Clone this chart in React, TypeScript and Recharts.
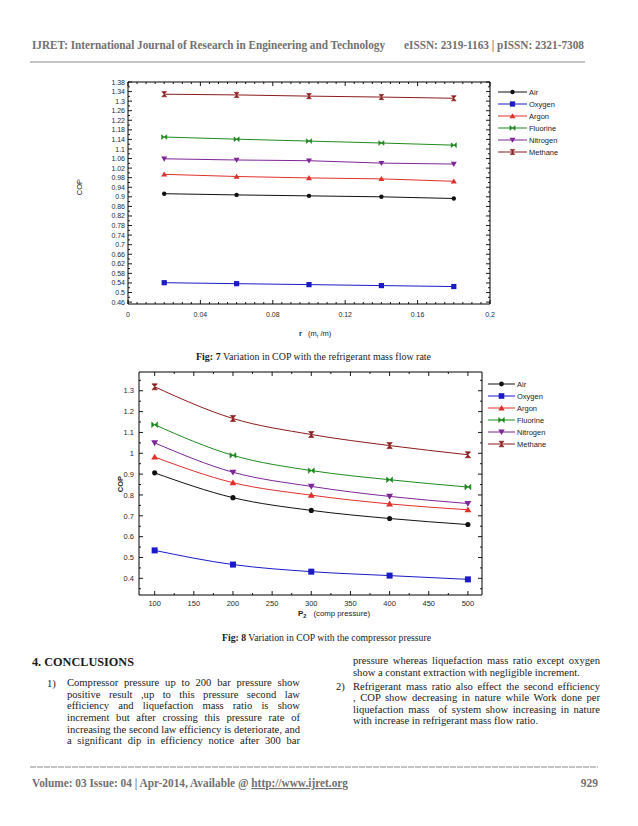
import React from 'react';
import { LineChart, Line, XAxis, YAxis } from 'recharts';

const seriesNames = ['Air', 'Oxygen', 'Argon', 'Fluorine', 'Nitrogen', 'Methane'];
const seriesColors = ['#111111', '#1a1ac8', '#e0302c', '#1e8a1e', '#7e2598', '#8c1b1b'];
const seriesMarkers = ['circle', 'square', 'triangle', 'bowtie', 'triangleDown', 'hourglass'];

// Fig 7: COP vs refrigerant mass flow ratio r
const massRatio = [0.02, 0.06, 0.1, 0.14, 0.18];
const copAirR = [0.913, 0.908, 0.904, 0.9, 0.893];
const copOxygenR = [0.541, 0.537, 0.533, 0.529, 0.525];
const copArgonR = [0.994, 0.985, 0.979, 0.975, 0.965];
const copFluorineR = [1.15, 1.141, 1.133, 1.125, 1.116];
const copNitrogenR = [1.059, 1.054, 1.051, 1.041, 1.037];
const copMethaneR = [1.329, 1.326, 1.321, 1.317, 1.312];

// Fig 8: COP vs compressor pressure P2
const pressure = [100, 200, 300, 400, 500];
const copAirP = [0.906, 0.787, 0.726, 0.687, 0.658];
const copOxygenP = [0.534, 0.466, 0.432, 0.413, 0.395];
const copArgonP = [0.982, 0.859, 0.799, 0.757, 0.729];
const copFluorineP = [1.137, 0.99, 0.917, 0.873, 0.838];
const copNitrogenP = [1.05, 0.909, 0.841, 0.793, 0.759];
const copMethaneP = [1.319, 1.167, 1.09, 1.037, 0.993];

const fig7XTicks = [0, 0.04, 0.08, 0.12, 0.16, 0.2];
const fig7XLabels = ['0', '0.04', '0.08', '0.12', '0.16', '0.2'];
const fig7YTicks = [0.46, 0.5, 0.54, 0.58, 0.62, 0.66, 0.7, 0.74, 0.78, 0.82, 0.86, 0.9, 0.94, 0.98, 1.02, 1.06, 1.1, 1.14, 1.18, 1.22, 1.26, 1.3, 1.34, 1.38];
const fig7YLabels = ['0.46', '0.5', '0.54', '0.58', '0.62', '0.66', '0.7', '0.74', '0.78', '0.82', '0.86', '0.9', '0.94', '0.98', '1.02', '1.06', '1.1', '1.14', '1.18', '1.22', '1.26', '1.3', '1.34', '1.38'];
const fig8XTicks = [100, 150, 200, 250, 300, 350, 400, 450, 500];
const fig8XLabels = ['100', '150', '200', '250', '300', '350', '400', '450', '500'];
const fig8YTicks = [0.4, 0.5, 0.6, 0.7, 0.8, 0.9, 1, 1.1, 1.2, 1.3];
const fig8YLabels = ['0.4', '0.5', '0.6', '0.7', '0.8', '0.9', '1', '1.1', '1.2', '1.3'];

const steps = (a: number, n: number, s: number) => {
  const out: number[] = [];
  for (let i = 0; i <= n; i++) out.push(Math.round((a + i * s) * 100000) / 100000);
  return out;
};
const fig7XAll = steps(0, 40, 0.005);
const fig7YAll = steps(0.46, 46, 0.02);
const fig8XAll = steps(100, 16, 25);
const fig8YAll = steps(0.35, 20, 0.05);

const fig7Series = [copAirR, copOxygenR, copArgonR, copFluorineR, copNitrogenR, copMethaneR];
const fig8Series = [copAirP, copOxygenP, copArgonP, copFluorineP, copNitrogenP, copMethaneP];

const fig7Data = massRatio.map((r, i) => {
  const row: any = { r };
  seriesNames.forEach((n, k) => (row[n] = fig7Series[k][i]));
  return row;
});
const fig8Data = pressure.map((p, i) => {
  const row: any = { p };
  seriesNames.forEach((n, k) => (row[n] = fig8Series[k][i]));
  return row;
});

const SANS = "'Liberation Sans', Arial, sans-serif";
const SERIF = "'Liberation Serif', 'Times New Roman', serif";

function Marker({ kind, cx, cy, color, s }: { kind: string; cx: number; cy: number; color: string; s: number }) {
  switch (kind) {
    case 'circle':
      return <circle cx={cx} cy={cy} r={s * 0.85} fill={color} />;
    case 'square':
      return <rect x={cx - s} y={cy - s} width={2 * s} height={2 * s} fill={color} />;
    case 'triangle':
      return <polygon points={`${cx},${cy - s * 1.1} ${cx - s * 1.15},${cy + s * 0.85} ${cx + s * 1.15},${cy + s * 0.85}`} fill={color} />;
    case 'triangleDown':
      return <polygon points={`${cx},${cy + s * 1.1} ${cx - s * 1.15},${cy - s * 0.85} ${cx + s * 1.15},${cy - s * 0.85}`} fill={color} />;
    case 'bowtie':
      return (
        <g fill={color} stroke={color} strokeWidth={0.6}>
          <polygon points={`${cx - s},${cy - s * 0.9} ${cx},${cy} ${cx - s},${cy + s * 0.9}`} />
          <polygon points={`${cx + s},${cy - s * 0.9} ${cx},${cy} ${cx + s},${cy + s * 0.9}`} />
        </g>
      );
    case 'hourglass':
    default:
      return (
        <g fill={color} stroke={color} strokeWidth={0.6}>
          <polygon points={`${cx - s * 0.9},${cy - s} ${cx + s * 0.9},${cy - s} ${cx},${cy}`} />
          <polygon points={`${cx - s * 0.9},${cy + s} ${cx + s * 0.9},${cy + s} ${cx},${cy}`} />
        </g>
      );
  }
}

type Side = 'left' | 'right' | 'top' | 'bottom';
function makeTick(side: Side, majors: number[], labels: string[], fontSize: number, labelGap: number, majorLen = 4, minorLen = 2) {
  return (props: any) => {
    const { x, y, payload } = props;
    const v = Number(payload?.value);
    const idx = majors.findIndex((m) => Math.abs(m - v) < 1e-6);
    const len = idx >= 0 ? majorLen : minorLen;
    let x2 = x;
    let y2 = y;
    if (side === 'left') x2 = x + len;
    if (side === 'right') x2 = x - len;
    if (side === 'bottom') y2 = y - len;
    if (side === 'top') y2 = y + len;
    let label = null;
    if (idx >= 0 && labels.length) {
      if (side === 'left')
        label = (
          <text x={x - labelGap} y={y + fontSize * 0.36} textAnchor="end" fontSize={fontSize} fontFamily={SANS} fill="#2a2a2a">
            {labels[idx]}
          </text>
        );
      if (side === 'bottom')
        label = (
          <text x={x} y={y + labelGap} textAnchor="middle" fontSize={fontSize} fontFamily={SANS} fill="#2a2a2a">
            {labels[idx]}
          </text>
        );
    }
    return (
      <g>
        <line x1={x} y1={y} x2={x2} y2={y2} stroke="#000" strokeWidth={0.9} />
        {label}
      </g>
    );
  };
}

const t7Left = makeTick('left', fig7YTicks, fig7YLabels, 7, 3);
const t7Right = makeTick('right', fig7YTicks, [], 7, 0);
const t7Bottom = makeTick('bottom', fig7XTicks, fig7XLabels, 7, 12.5);
const t7Top = makeTick('top', fig7XTicks, [], 7, 0);
const t8Left = makeTick('left', fig8YTicks, fig8YLabels, 7.5, 5);
const t8Right = makeTick('right', fig8YTicks, [], 7.5, 0);
const t8Bottom = makeTick('bottom', fig8XTicks, fig8XLabels, 7.5, 11);
const t8Top = makeTick('top', fig8XTicks, [], 7.5, 0);

const axisCommon = {
  tickLine: false,
  tickSize: 0,
  tickMargin: 0,
  interval: 0 as const,
  allowDataOverflow: true,
  axisLine: { stroke: '#000', strokeWidth: 1 },
  type: 'number' as const,
};

function renderLines(s: number, curve: 'linear' | 'monotone') {
  return seriesNames.map((name, k) => (
    <Line
      key={name}
      dataKey={name}
      type={curve}
      stroke={seriesColors[k]}
      strokeWidth={1}
      isAnimationActive={false}
      activeDot={false}
      dot={(p: any) => (
        <Marker key={`${name}-${p.index}`} kind={seriesMarkers[k]} cx={p.cx} cy={p.cy} color={seriesColors[k]} s={s} />
      )}
    />
  ));
}

function Legend({ x0, y0, dy, len, s }: { x0: number; y0: number; dy: number; len: number; s: number }) {
  return (
    <g>
      {seriesNames.map((name, k) => {
        const y = y0 + k * dy;
        return (
          <g key={name}>
            <line x1={x0} y1={y} x2={x0 + len} y2={y} stroke={seriesColors[k]} strokeWidth={1} />
            <Marker kind={seriesMarkers[k]} cx={x0 + len / 2} cy={y} color={seriesColors[k]} s={s} />
            <text x={x0 + len + 2} y={y + 2.6} fontSize={7.5} fontFamily={SANS} fill="#222">
              {name}
            </text>
          </g>
        );
      })}
    </g>
  );
}

const leftLines = [
  'Compressor pressure up to 200 bar pressure show',
  'positive result ,up to this pressure second law',
  'efficiency and liquefaction mass ratio is show',
  'increment but after crossing this pressure rate of',
  'increasing the second law efficiency is deteriorate, and',
  'a significant dip in efficiency notice after 300 bar',
];
const rightLines = [
  'pressure whereas liquefaction mass ratio except oxygen',
  'show a constant extraction with negligible increment.',
  'Refrigerant mass ratio also effect the second efficiency',
  ', COP show decreasing in nature while Work done per',
  'liquefaction mass  of system show increasing in nature',
  'with increase in refrigerant mass flow ratio.',
];
const leftCenters = [683, 694.7, 706.3, 718, 729.7, 741.3];
const rightCenters = [661, 672.6, 686.5, 698.1, 709.7, 721.3];
const rightJustify = [true, false, true, true, true, false];

function BodyLine({ text, x, cy, w, justify }: { text: string; x: number; cy: number; w: number; justify: boolean }) {
  return (
    <div
      style={{
        position: 'absolute',
        left: x,
        top: cy - 7,
        width: w,
        height: 13,
        lineHeight: '13px',
        fontSize: 10.6,
        fontFamily: SERIF,
        color: '#1a1a1a',
        whiteSpace: 'pre',
        textAlign: justify ? 'justify' : 'left',
        textAlignLast: justify ? 'justify' : 'left',
      } as any}
    >
      {text}
    </div>
  );
}

export default function App() {
  return (
    <div style={{ position: 'absolute', left: 0, top: 0, width: 638, height: 826, background: '#fff', overflow: 'hidden' }}>
      <svg width={638} height={826} style={{ position: 'absolute', left: 0, top: 0 }}>
        {/* header */}
        <text x={32} y={49} fontSize={11.5} fontWeight="bold" fontFamily={SERIF} fill="#707070" textLength={353} lengthAdjust="spacingAndGlyphs">
          IJRET: International Journal of Research in Engineering and Technology
        </text>
        <text x={404} y={49} fontSize={11.5} fontWeight="bold" fontFamily={SERIF} fill="#707070" textLength={180} lengthAdjust="spacingAndGlyphs">
          eISSN: 2319-1163 | pISSN: 2321-7308
        </text>
        <line x1={30} y1={62} x2={585} y2={62} stroke="#8a8a8a" strokeWidth={1} />

        {/* fig 7 labels */}
        <text x={82} y={187} transform="rotate(-90 82 187)" textAnchor="middle" fontSize={7.5} fontFamily={SANS} fill="#222">
          COP
        </text>
        <text x={299} y={336} fontSize={7.5} fontFamily={SANS} fill="#222">
          <tspan fontWeight="bold">r</tspan>
          <tspan dx={6}>(m</tspan>
          <tspan fontSize={5} dy={2}>r</tspan>
          <tspan dy={-2}> /m)</tspan>
        </text>
        <Legend x0={498} y0={92} dy={12} len={29} s={2.6} />
        <text x={196} y={360} fontSize={10.5} fontFamily={SERIF} fill="#1a1a1a" textLength={235} lengthAdjust="spacingAndGlyphs">
          <tspan fontWeight="bold">Fig: 7</tspan> Variation in COP with the refrigerant mass flow rate
        </text>

        {/* fig 8 labels */}
        <text x={123} y={484} transform="rotate(-90 123 484)" textAnchor="middle" fontSize={7.5} fontWeight="bold" fontFamily={SANS} fill="#222">
          COP
        </text>
        <text x={298} y={616} fontSize={7.8} fontFamily={SANS} fill="#222">
          <tspan fontWeight="bold" fontSize={8}>P</tspan>
          <tspan fontWeight="bold" fontSize={5.5} dy={2}>2</tspan>
          <tspan dx={7} dy={-2}>(comp pressure)</tspan>
        </text>
        <Legend x0={488} y0={384} dy={12} len={27} s={2.8} />
        <text x={222} y={641} fontSize={10.5} fontFamily={SERIF} fill="#1a1a1a" textLength={209} lengthAdjust="spacingAndGlyphs">
          <tspan fontWeight="bold">Fig: 8</tspan> Variation in COP with the compressor pressure
        </text>

        {/* conclusions */}
        <text x={32} y={666} fontSize={12} fontWeight="bold" fontFamily={SERIF} fill="#1a1a1a" textLength={102} lengthAdjust="spacingAndGlyphs">
          4. CONCLUSIONS
        </text>
        <text x={47} y={686.8} fontSize={10.6} fontFamily={SERIF} fill="#1a1a1a">1)</text>
        <text x={336} y={690.3} fontSize={10.6} fontFamily={SERIF} fill="#1a1a1a">2)</text>

        {/* footer */}
        <line x1={30} y1={767} x2={598} y2={767} stroke="#8a8a8a" strokeWidth={1} strokeDasharray="6 1" />
        <text x={32} y={787} fontSize={11.5} fontWeight="bold" fontFamily={SERIF} fill="#707070" textLength={316} lengthAdjust="spacingAndGlyphs">
          Volume: 03 Issue: 04 | Apr-2014, Available @ <tspan style={{ textDecoration: 'underline' }}>http://www.ijret.org</tspan>
        </text>
        <text x={598} y={787} fontSize={11.5} fontWeight="bold" fontFamily={SERIF} fill="#707070" textAnchor="end">
          929
        </text>
      </svg>

      {leftLines.map((t, i) => (
        <BodyLine key={'l' + i} text={t} x={67} cy={leftCenters[i]} w={233} justify={true} />
      ))}
      {rightLines.map((t, i) => (
        <BodyLine key={'r' + i} text={t} x={353} cy={rightCenters[i]} w={247} justify={rightJustify[i]} />
      ))}

      <div style={{ position: 'absolute', left: 60, top: 70 }}>
        <LineChart width={440} height={260} data={fig7Data} margin={{ top: 11, right: 9, bottom: 25, left: 67 }}>
          <XAxis {...axisCommon} dataKey="r" domain={[0, 0.2]} ticks={fig7XAll} tick={t7Bottom} height={1} />
          <XAxis {...axisCommon} xAxisId="top" dataKey="r" orientation="top" domain={[0, 0.2]} ticks={fig7XAll} tick={t7Top} height={1} />
          <YAxis {...axisCommon} domain={[0.452, 1.38]} ticks={fig7YAll} tick={t7Left} width={1} />
          <YAxis {...axisCommon} yAxisId="right" orientation="right" domain={[0.452, 1.38]} ticks={fig7YAll} tick={t7Right} width={1} />
          <Line xAxisId="top" yAxisId="right" dataKey="Air" stroke="none" dot={false} activeDot={false} isAnimationActive={false} legendType="none" />
          {renderLines(2.6, 'linear')}
        </LineChart>
      </div>

      <div style={{ position: 'absolute', left: 100, top: 362 }}>
        <LineChart width={392} height={250} data={fig8Data} margin={{ top: 9, right: 9, bottom: 16, left: 38 }}>
          <XAxis {...axisCommon} dataKey="p" domain={[80, 518]} ticks={fig8XAll} tick={t8Bottom} height={1} />
          <XAxis {...axisCommon} xAxisId="top" dataKey="p" orientation="top" domain={[80, 518]} ticks={fig8XAll} tick={t8Top} height={1} />
          <YAxis {...axisCommon} domain={[0.32, 1.39]} ticks={fig8YAll} tick={t8Left} width={1} />
          <YAxis {...axisCommon} yAxisId="right" orientation="right" domain={[0.32, 1.39]} ticks={fig8YAll} tick={t8Right} width={1} />
          <Line xAxisId="top" yAxisId="right" dataKey="Air" stroke="none" dot={false} activeDot={false} isAnimationActive={false} legendType="none" />
          {renderLines(3, 'monotone')}
        </LineChart>
      </div>
    </div>
  );
}
